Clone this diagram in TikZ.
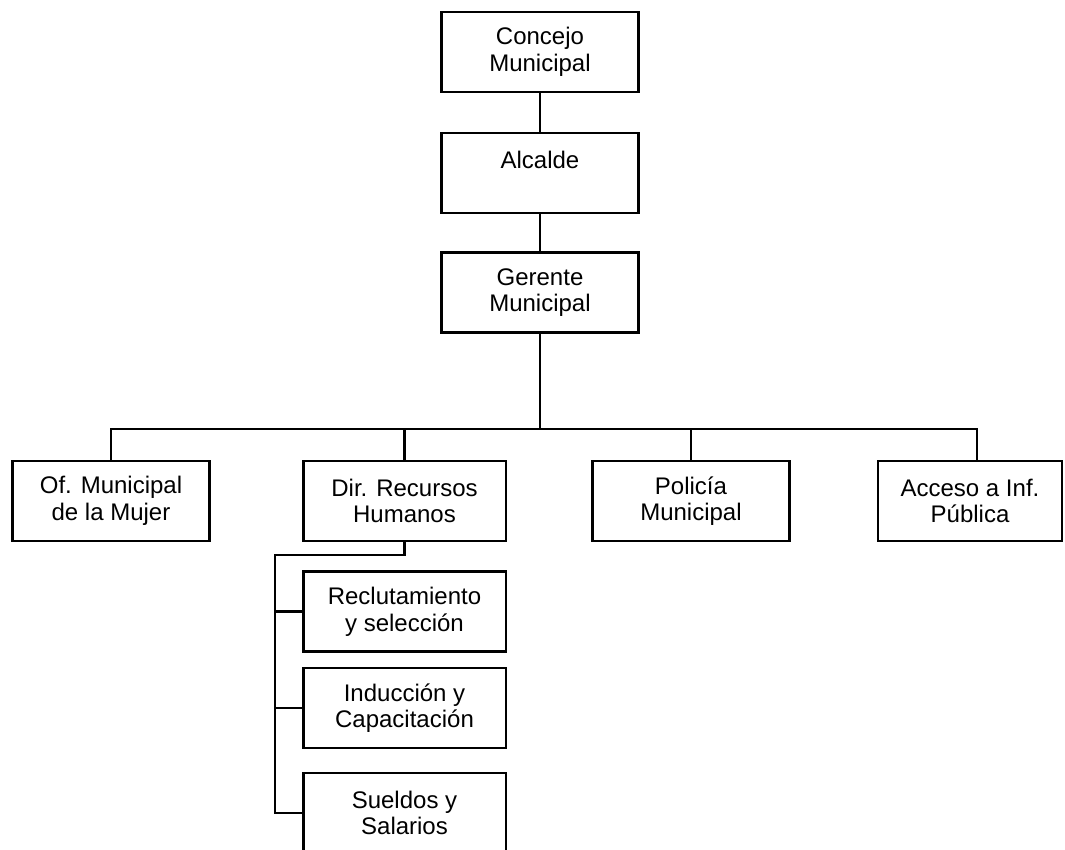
\documentclass[tikz,border=0pt]{standalone}
\usepackage{fontspec}
\setmainfont{Liberation Sans}
\begin{document}
\begin{tikzpicture}[x=0.75pt,y=-0.75pt,
  box/.style={draw, line width=2pt, minimum width=147.75pt, minimum height=60pt,
    inner sep=0pt, align=center, font=\fontsize{18}{20}\selectfont},
  widebox/.style={box, minimum width=152pt},
  conn/.style={line width=2pt}]
\useasboundingbox (0,0) rectangle (1065,850);
\clip (0,0) rectangle (1065,850);
\node[box] (concejo) at (540,52) {Concejo\\Municipal};
\node[box] (alcalde) at (540,173) {Alcalde\\\phantom{M}};
\node[box] (gerente) at (540,292.5) {Gerente\\Municipal};
\node[box] (of) at (111,501) {Of. Municipal\\de la Mujer};
\node[widebox] (dir) at (404.5,501) {Dir. Recursos\\Humanos};
\node[box] (policia) at (691,501) {Policía\\Municipal};
\node[box, minimum width=138pt] (acceso) at (970,501) {Acceso a Inf.\\Pública};
\node[widebox] (recl) at (404.5,611.5) {Reclutamiento\\y selección};
\node[widebox] (induc) at (404.5,708) {Inducción y\\Capacitación};
\node[widebox] (sueldos) at (404.5,813) {Sueldos y\\Salarios};
\coordinate (busref) at (0,429);
\coordinate (acctop) at (977,461);
\coordinate (brk) at (275,555);
\draw[conn] (concejo.south) -- (alcalde.north);
\draw[conn] (alcalde.south) -- (gerente.north);
\draw[conn] (gerente.south) -- (gerente.south |- busref);
\draw[conn] (of.north) -- (of.north |- busref) -- (acctop |- busref) -- (acctop);
\draw[conn] (dir.north) -- (dir.north |- busref);
\draw[conn] (policia.north) -- (policia.north |- busref);
\draw[conn] (dir.south) -- (dir.south |- brk) -- (brk) -- (brk |- sueldos.west) -- (sueldos.west);
\draw[conn] (brk |- recl.west) -- (recl.west);
\draw[conn] (brk |- induc.west) -- (induc.west);
\end{tikzpicture}
\end{document}
